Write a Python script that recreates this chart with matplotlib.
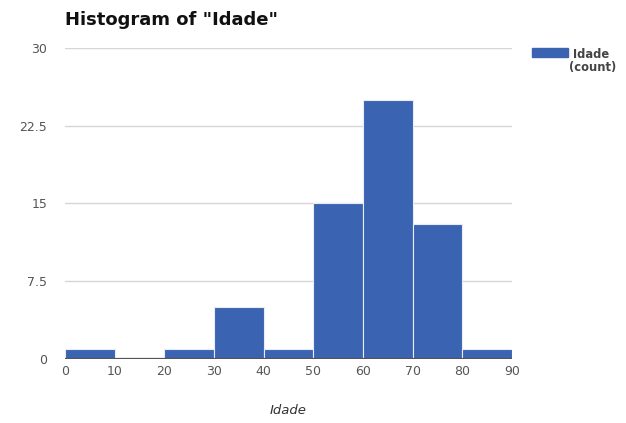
import matplotlib as mpl
mpl.use('Agg')
import matplotlib.pyplot as plt
import numpy as np

# age histogram, counts per 10-year bin
bin_edges = [0, 10, 20, 30, 40, 50, 60, 70, 80, 90]
counts = [1, 0, 1, 5, 1, 15, 25, 13, 1]
y_ticks = [0, 7.5, 15, 22.5, 30]
y_tick_labels = ['0', '7.5', '15', '22.5', '30']

plt.rcParams['font.family'] = ['DejaVu Sans']

bar_color = '#3a63b1'
grid_color = '#d6d6d6'
text_color = '#555555'

fig = plt.figure(figsize=(6.26, 4.23), dpi=100)
ax = fig.add_axes([0.104, 0.151, 0.714, 0.736])

lefts = np.array(bin_edges[:-1])
widths = np.diff(bin_edges)
ax.bar(lefts, counts, width=widths, align='edge', color=bar_color,
       edgecolor='#e8ecf5', linewidth=0.8, zorder=3)

ax.set_xlim(bin_edges[0], bin_edges[-1])
ax.set_ylim(0, 30)
ax.set_yticks(y_ticks)
ax.set_yticklabels(y_tick_labels)
ax.set_xticks(bin_edges)
ax.yaxis.grid(True, color=grid_color, linewidth=1.0, zorder=0)
ax.axhline(0, color='#555555', linewidth=1.6, zorder=4)

for s in ax.spines.values():
    s.set_visible(False)
ax.tick_params(axis='both', length=0, labelsize=9, colors=text_color)
ax.tick_params(axis='y', pad=13)
ax.tick_params(axis='x', pad=4)

fig.text(0.460, 0.030, 'Idade', style='italic', fontsize=9.5, color='#333333',
         ha='center', va='center')

fig.text(0.104, 0.953, 'Histogram of "Idade"', fontsize=13, fontweight='bold',
         color='#111111', ha='left', va='center')

# legend swatch and label
fig.patches.append(mpl.patches.Rectangle((0.850, 0.865), 0.0575, 0.021,
                                         transform=fig.transFigure, color=bar_color))
fig.text(0.915, 0.872, 'Idade', fontsize=8.3, fontweight='bold', color='#444444',
         ha='left', va='center')
fig.text(0.909, 0.840, '(count)', fontsize=8.3, fontweight='bold', color='#444444',
         ha='left', va='center')

plt.savefig('out.png', dpi=100)
plt.close()
